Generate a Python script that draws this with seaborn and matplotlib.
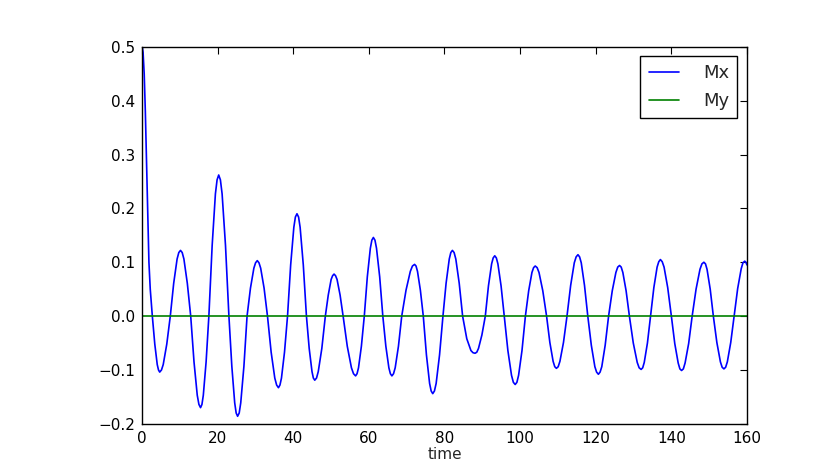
import numpy as np
import matplotlib
matplotlib.use("Agg")
import matplotlib.pyplot as plt
import seaborn as sns

# Mx (time, value)
time = [0.0, 0.15, 0.3, 0.6, 0.9, 1.2, 1.6, 1.85, 2.2, 2.75,
        3.4, 4.05, 4.38, 4.7, 5.17, 5.63, 6.57, 7.5,
        8.4, 9.3, 9.75, 10.2, 10.65, 11.1, 12.0, 12.9,
        13.77, 14.63, 15.07, 15.5, 15.87, 16.23, 16.97, 17.7,
        18.57, 19.43, 19.87, 20.3, 20.75, 21.2, 22.1, 23.0,
        23.77, 24.53, 24.92, 25.3, 25.72, 26.13, 26.97, 27.8,
        28.7, 29.6, 30.05, 30.5, 30.95, 31.4, 32.3, 33.2,
        34.17, 35.13, 35.62, 36.1, 36.5, 36.9, 37.7, 38.5,
        39.33, 40.17, 40.58, 41.0, 41.42, 41.83, 42.67, 43.5,
        44.23, 44.97, 45.33, 45.7, 46.17, 46.63, 47.57, 48.5,
        49.27, 50.03, 50.42, 50.8, 51.2, 51.6, 52.4, 53.2,
        54.3, 55.4, 55.95, 56.5, 56.88, 57.27, 58.03, 58.8,
        59.6, 60.4, 60.8, 61.2, 61.62, 62.03, 62.87, 63.7,
        64.5, 65.3, 65.7, 66.1, 66.53, 66.97, 67.83, 68.7,
        69.83, 70.97, 71.53, 72.1, 72.48, 72.87, 73.63, 74.4,
        75.23, 76.07, 76.48, 76.9, 77.35, 77.8, 78.7, 79.6,
        80.43, 81.27, 81.68, 82.1, 82.55, 83.0, 83.9, 84.8,
        85.9, 87.0, 87.55, 88.1, 88.55, 89.0, 89.9, 90.8,
        91.63, 92.47, 92.88, 93.3, 93.72, 94.13, 94.97, 95.8,
        96.77, 97.73, 98.22, 98.7, 99.15, 99.6, 100.5, 101.4,
        102.27, 103.13, 103.57, 104.0, 104.5, 105.0, 106.0, 107.0,
        107.87, 108.73, 109.17, 109.6, 110.07, 110.53, 111.47, 112.4,
        113.37, 114.33, 114.82, 115.3, 115.73, 116.17, 117.03, 117.9,
        118.83, 119.77, 120.23, 120.7, 121.15, 121.6, 122.5, 123.4,
        124.37, 125.33, 125.82, 126.3, 126.73, 127.17, 128.03, 128.9,
        129.93, 130.97, 131.48, 132.0, 132.42, 132.83, 133.67, 134.5,
        135.37, 136.23, 136.67, 137.1, 137.58, 138.07, 139.03, 140.0,
        140.9, 141.8, 142.25, 142.7, 143.17, 143.63, 144.57, 145.5,
        146.53, 147.57, 148.08, 148.6, 149.02, 149.43, 150.27, 151.1,
        152.03, 152.97, 153.43, 153.9, 154.35, 154.8, 155.7, 156.6,
        157.53, 158.47, 158.93, 159.4, 159.7, 160.0]
mx = [0.5, 0.497, 0.49, 0.45, 0.38, 0.29, 0.17, 0.10, 0.05, 0.0,
      -0.052, -0.090, -0.100, -0.104, -0.100, -0.090, -0.052, 0.0,
      0.061, 0.106, 0.118, 0.122, 0.118, 0.106, 0.061, 0.0,
      -0.085, -0.147, -0.164, -0.170, -0.164, -0.147, -0.085, 0.0,
      0.131, 0.227, 0.253, 0.262, 0.253, 0.227, 0.131, 0.0,
      -0.093, -0.161, -0.180, -0.186, -0.180, -0.161, -0.093, 0.0,
      0.052, 0.089, 0.099, 0.103, 0.099, 0.089, 0.052, 0.0,
      -0.067, -0.115, -0.128, -0.133, -0.128, -0.115, -0.067, 0.0,
      0.095, 0.165, 0.184, 0.190, 0.184, 0.165, 0.095, 0.0,
      -0.060, -0.103, -0.115, -0.119, -0.115, -0.103, -0.060, 0.0,
      0.039, 0.068, 0.075, 0.078, 0.075, 0.068, 0.039, 0.0,
      -0.056, -0.096, -0.107, -0.111, -0.107, -0.096, -0.056, 0.0,
      0.073, 0.126, 0.141, 0.146, 0.141, 0.126, 0.073, 0.0,
      -0.056, -0.096, -0.107, -0.111, -0.107, -0.096, -0.056, 0.0,
      0.048, 0.083, 0.093, 0.096, 0.093, 0.083, 0.048, 0.0,
      -0.072, -0.125, -0.139, -0.144, -0.139, -0.125, -0.072, 0.0,
      0.061, 0.106, 0.118, 0.122, 0.118, 0.106, 0.061, 0.0,
      -0.042, -0.064, -0.068, -0.069, -0.067, -0.060, -0.035, 0.0,
      0.056, 0.097, 0.108, 0.112, 0.108, 0.097, 0.056, 0.0,
      -0.064, -0.110, -0.123, -0.127, -0.123, -0.110, -0.064, 0.0,
      0.047, 0.081, 0.090, 0.093, 0.090, 0.081, 0.047, 0.0,
      -0.049, -0.084, -0.094, -0.097, -0.094, -0.084, -0.049, 0.0,
      0.057, 0.099, 0.110, 0.114, 0.110, 0.099, 0.057, 0.0,
      -0.054, -0.094, -0.104, -0.108, -0.104, -0.094, -0.054, 0.0,
      0.047, 0.081, 0.091, 0.094, 0.091, 0.081, 0.047, 0.0,
      -0.050, -0.086, -0.096, -0.099, -0.096, -0.086, -0.050, 0.0,
      0.053, 0.091, 0.101, 0.105, 0.101, 0.091, 0.053, 0.0,
      -0.051, -0.087, -0.098, -0.101, -0.098, -0.087, -0.051, 0.0,
      0.050, 0.087, 0.097, 0.100, 0.097, 0.087, 0.050, 0.0,
      -0.049, -0.085, -0.095, -0.098, -0.095, -0.085, -0.049, 0.0,
      0.051, 0.088, 0.099, 0.102, 0.100, 0.095]
# My stays flat at zero
my_time = [0.0, 160.0]
my = [0.0, 0.0]

sns.set_style("white")
plt.rcParams["font.family"] = ["DejaVu Sans"]

fig = plt.figure(figsize=(8.3, 4.73), dpi=100)
ax = fig.add_axes([0.171, 0.104, 0.729, 0.797])

sns.lineplot(x=time, y=mx, ax=ax, color="#0000ff", linewidth=1.2, label="Mx")
sns.lineplot(x=my_time, y=my, ax=ax, color="#008000", linewidth=1.2, label="My")

ax.set_xlim(0, 160)
ax.set_ylim(-0.2, 0.5)
ax.set_xticks(np.arange(0, 161, 20))
ax.set_yticks(np.arange(-0.2, 0.51, 0.1))
ax.set_yticklabels(["\u22120.2", "\u22120.1", "0.0", "0.1", "0.2", "0.3", "0.4", "0.5"])
ax.set_xlabel("time", fontsize=11, labelpad=1)
ax.tick_params(direction="in", top=True, right=True, length=5, width=0.8,
               labelsize=11, pad=5, colors="black")
for s in ax.spines.values():
    s.set_color("black")
    s.set_linewidth(1.0)

leg = ax.legend(loc="upper right", fancybox=False, framealpha=1, fontsize=13,
                handlelength=1.7, handletextpad=1.3, borderpad=0.45,
                labelspacing=0.55, borderaxespad=0,
                bbox_to_anchor=(0.9835, 0.976))
leg.get_frame().set_edgecolor("black")
leg.get_frame().set_linewidth(1.0)

fig.savefig("out.png", dpi=100)
